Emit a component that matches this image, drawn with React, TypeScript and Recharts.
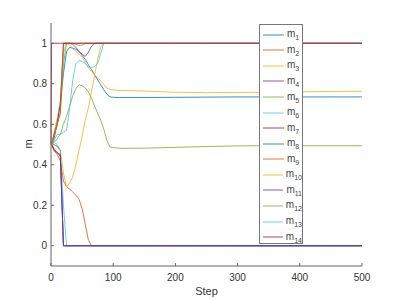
import { LineChart, Line, XAxis, YAxis, Legend, Label } from 'recharts';

const steps = [0, 1, 5, 10, 15, 20, 25, 30, 35, 40, 45, 50, 55, 60, 65, 70, 75, 80, 85, 90, 95, 100, 110, 150, 200, 250, 300, 350, 400, 450, 500];

const zeros = (n: number) => Array(n).fill(0);
const ones = (n: number) => Array(n).fill(1);

const m1 = [0.5, 0.5, 0.55, 0.62, 0.7, 0.85, 0.96, 0.98, 0.975, 0.97, 0.96, 0.94, 0.92, 0.895, 0.87, 0.845, 0.82, 0.795, 0.77, 0.748, 0.735, 0.733, 0.732, 0.732, 0.733, 0.734, 0.735, 0.735, 0.735, 0.735, 0.735];
const m2 = [0.5, 0.5, 0.47, 0.45, 0.42, 0.32, 0.29, 0.28, 0.265, 0.25, 0.23, 0.184, 0.107, 0.031, ...zeros(17)];
const m3 = [0.5, 0.5, 0.56, 0.63, 0.72, 0.95, 1.0, 0.99, 0.975, 0.96, 0.945, 0.93, 0.905, 0.88, 0.86, 0.845, 0.83, 0.815, 0.795, 0.778, 0.772, 0.77, 0.767, 0.764, 0.758, 0.756, 0.757, 0.758, 0.76, 0.762, 0.763];
const m4 = [0.5, 0.5, 0.53, 0.6, 0.7, 1, 1, 1, 0.995, 0.98, 0.96, 0.945, 0.935, 0.955, 0.985, 1, ...ones(15)];
const m5 = [0.5, 0.5, 0.55, 0.6, 0.65, 0.9, 1, 1, 1, 0.995, 0.99, 0.99, 1, ...ones(18)];
const m6 = [0.5, 0.5, 0.51, 0.5, 0.47, 0.2, 0, ...zeros(24)];
const m7 = [0.5, 0.5, 0.47, 0.46, 0.44, 0, ...zeros(25)];
const m8 = [0.5, 0.5, 0.5, 0.49, 0.47, 0, ...zeros(25)];
const m9 = [0.5, 0.5, 0.55, 0.6, 0.66, 1, ...ones(25)];
const m10 = [0.5, 0.5, 0.5, 0.49, 0.47, 0.36, 0.29, 0.31, 0.34, 0.4, 0.47, 0.54, 0.62, 0.68, 0.76, 0.84, 0.92, 0.98, 1, ...ones(12)];
const m11 = [0.5, 0.5, 0.48, 0.46, 0.45, 0, ...zeros(25)];
const m12 = [0.5, 0.5, 0.51, 0.53, 0.55, 0.6, 0.64, 0.69, 0.74, 0.775, 0.795, 0.79, 0.78, 0.76, 0.73, 0.69, 0.655, 0.62, 0.575, 0.52, 0.487, 0.485, 0.481, 0.482, 0.486, 0.49, 0.493, 0.494, 0.494, 0.494, 0.494];
const m13 = [0.5, 0.5, 0.52, 0.55, 0.55, 0.56, 0.57, 0.68, 0.82, 0.9, 0.915, 0.91, 0.9, 0.885, 0.88, 0.885, 0.9, 0.95, 1, ...ones(12)];
const m14 = [0.5, ...ones(30)];

const series = [m1, m2, m3, m4, m5, m6, m7, m8, m9, m10, m11, m12, m13, m14];
const seriesNames = series.map((_, i) => `m${i + 1}`);
const palette = ['#0072BD', '#D95319', '#EDB120', '#7E2F8E', '#77AC30', '#4DBEEE', '#A2142F'];

const xTicks = [0, 100, 200, 300, 400, 500];
const yTicks = [0, 0.2, 0.4, 0.6, 0.8, 1];

const data = steps.map((step, i) => {
  const row: Record<string, number> = { step };
  series.forEach((s, k) => (row[seriesNames[k]] = s[i]));
  return row;
});

const font = '"Liberation Sans", Arial, sans-serif';
const axisColor = '#666';
const textColor = '#333';

function YTick({ x, y, payload }: any) {
  return (
    <g>
      <line x1={x + 4} x2={x + 7} y1={y} y2={y} stroke={axisColor} />
      <text x={x} y={y} dy={3.5} textAnchor="end" fontSize={10} fill={textColor} fontFamily={font}>
        {payload.value}
      </text>
    </g>
  );
}

function XTick({ x, y, payload }: any) {
  return (
    <g>
      <line x1={x} x2={x} y1={y - 6} y2={y - 9} stroke={axisColor} />
      <text x={x} y={y} dy={9} textAnchor="middle" fontSize={10} fill={textColor} fontFamily={font}>
        {payload.value}
      </text>
    </g>
  );
}

function LegendBox() {
  return (
    <div
      style={{
        width: 44,
        height: 220,
        boxSizing: 'border-box',
        border: '1px solid #777',
        background: '#fff',
        paddingTop: 2,
        fontFamily: font,
        fontSize: 10,
        color: '#444',
      }}
    >
      {seriesNames.map((name, i) => (
        <div key={name} style={{ display: 'flex', alignItems: 'center', height: 15.57, paddingLeft: 3 }}>
          <svg width={21} height={4} style={{ marginRight: 3 }}>
            <line x1={0} x2={21} y1={2} y2={2} stroke={palette[i % 7]} strokeWidth={0.8} />
          </svg>
          <span>
            m<sub style={{ fontSize: 7, verticalAlign: -3 }}>{i + 1}</sub>
          </span>
        </div>
      ))}
    </div>
  );
}

export default function App() {
  return (
    <div style={{ position: 'absolute', left: 0, top: 0, width: 399, height: 299, background: '#fff' }}>
      <LineChart width={399} height={299} data={data} margin={{ top: 23, right: 37, left: 0, bottom: 0 }}>
        <XAxis
          dataKey="step"
          type="number"
          domain={[0, 500]}
          ticks={xTicks}
          height={33}
          stroke={axisColor}
          tickLine={false}
          tickSize={0}
          tickMargin={6}
          tick={<XTick />}
        >
          <Label
            content={() => (
              <text x={206.5} y={295} textAnchor="middle" fontSize={11} fill={textColor} fontFamily={font}>
                Step
              </text>
            )}
          />
        </XAxis>
        <YAxis
          type="number"
          domain={[-0.1, 1.1]}
          ticks={yTicks}
          width={51}
          stroke={axisColor}
          tickLine={false}
          tickSize={0}
          tickMargin={4}
          tick={<YTick />}
        >
          <Label
            content={() => (
              <text
                x={28}
                y={144}
                transform="rotate(-90 28 144)"
                textAnchor="middle"
                dominantBaseline="central"
                fontSize={11}
                fill={textColor}
                fontFamily={font}
              >
                m
              </text>
            )}
          />
        </YAxis>
        {seriesNames.map((name, i) => (
          <Line
            key={name}
            dataKey={name}
            stroke={palette[i % 7]}
            strokeWidth={0.8}
            dot={false}
            isAnimationActive={false}
          />
        ))}
        <Legend
          layout="vertical"
          align="center"
          verticalAlign="middle"
          content={<LegendBox />}
          wrapperStyle={{ left: 259, top: 24, width: 44, height: 220 }}
        />
      </LineChart>
    </div>
  );
}
